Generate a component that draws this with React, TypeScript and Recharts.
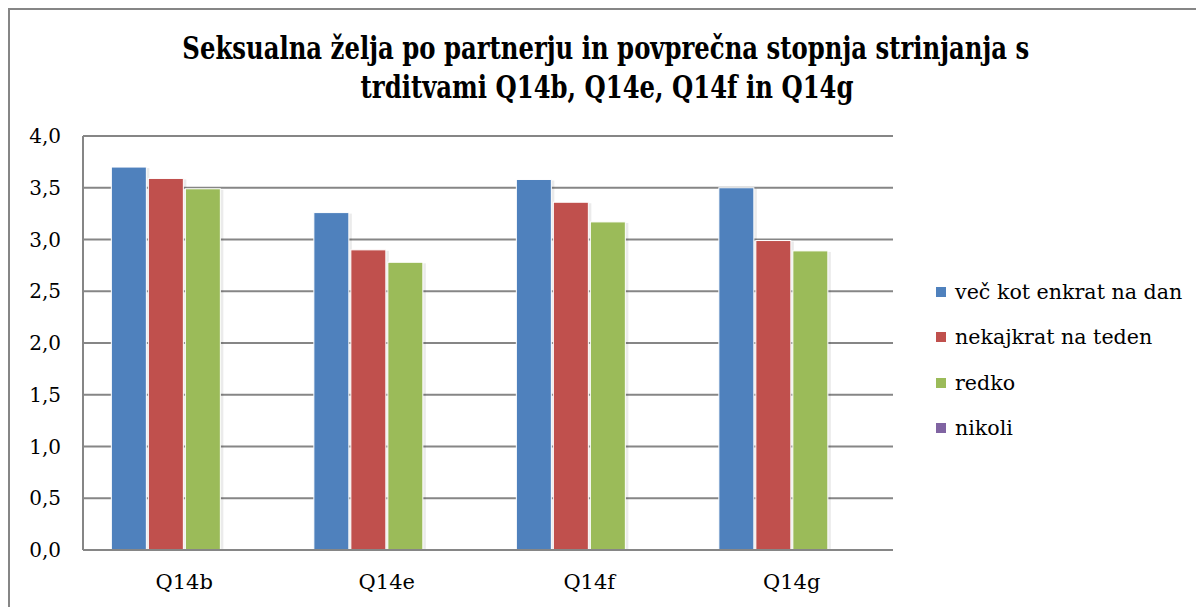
import React from 'react';
import { BarChart, Bar, XAxis, YAxis, CartesianGrid, Legend } from 'recharts';

const categories = ['Q14b', 'Q14e', 'Q14f', 'Q14g'];
const vecKotEnkratNaDan = [3.7, 3.26, 3.58, 3.5];
const nekajkratNaTeden = [3.59, 2.9, 3.36, 2.99];
const redko = [3.49, 2.78, 3.17, 2.89];
const nikoli: (number | null)[] = [null, null, null, null];
const seriesNames = ['več kot enkrat na dan', 'nekajkrat na teden', 'redko', 'nikoli'];
const seriesColors = ['#4F81BD', '#C0504D', '#9BBB59', '#8064A2'];
const yTicks = [0, 0.5, 1, 1.5, 2, 2.5, 3, 3.5, 4];
const titleLines = [
  'Seksualna želja po partnerju in povprečna stopnja strinjanja s',
  'trditvami Q14b, Q14e, Q14f in Q14g',
];

const data = categories.map((c, i) => ({
  name: c,
  s0: vecKotEnkratNaDan[i],
  s1: nekajkratNaTeden[i],
  s2: redko[i],
  s3: nikoli[i],
}));

const FONT = '"DejaVu Serif", serif';

const LegendContent = () => (
  <div style={{ fontFamily: FONT, fontSize: 20.6, color: '#000' }}>
    {seriesNames.map((n, i) => (
      <div key={n} style={{ display: 'flex', alignItems: 'center', height: 45.5 }}>
        <span style={{ width: 10, height: 10, background: seriesColors[i], display: 'inline-block', marginRight: 9 }} />
        <span>{n}</span>
      </div>
    ))}
  </div>
);

const ShadowBar = (props: any) => {
  const { x, y, width, height, fill } = props;
  if (!height || height <= 0) return null;
  return (
    <g>
      <rect x={x + 1} y={y + 1} width={width + 2} height={height} fill="#000" opacity={0.08} />
      <rect x={x} y={y} width={width} height={height} fill={fill} stroke="#fff" strokeWidth={1} />
    </g>
  );
};

export default function App() {
  return (
    <div style={{ position: 'relative', width: 1196, height: 599, overflow: 'hidden' }}>
      <div
        style={{
          position: 'absolute', left: 0, top: 0, width: 1196, height: 599,
          borderTop: '2px solid #868686', borderLeft: '2px solid #868686', boxSizing: 'border-box',
        }}
      />
      <div
        style={{
          position: 'absolute', left: 0, top: 21, width: 1196, textAlign: 'center',
          fontFamily: FONT, fontWeight: 'bold', fontSize: 31, lineHeight: '39px', color: '#000',
        }}
      >
        {titleLines.map((l, i) => (
          <div key={l} style={{ transform: 'scaleX(0.785)', transformOrigin: i === 0 ? '597px 0' : '603px 0' }}>
            {l}
          </div>
        ))}
      </div>
      <div style={{ position: 'absolute', left: 0, top: 0 }}>
        <BarChart
          width={1196}
          height={599}
          data={data}
          margin={{ top: 128, right: 311, bottom: 17, left: 0 }}
          barCategoryGap="14%"
          barGap={2}
        >
          <CartesianGrid vertical={false} stroke="#868686" strokeWidth={2} />
          <XAxis
            dataKey="name"
            height={40}
            tickLine={false}
            tickSize={0}
            tickMargin={24}
            axisLine={{ stroke: '#868686', strokeWidth: 2 }}
            tick={{ fill: '#000', fontFamily: FONT, fontSize: 21 }}
          />
          <YAxis
            width={75}
            domain={[0, 4]}
            ticks={yTicks}
            interval={0}
            tickLine={false}
            tickSize={0}
            tickMargin={22}
            axisLine={{ stroke: '#868686', strokeWidth: 2 }}
            tickFormatter={(v: number) => v.toFixed(1).replace('.', ',')}
            tick={{ fill: '#000', fontFamily: FONT, fontSize: 20 }}
          />
          <Legend
            layout="horizontal"
            verticalAlign="middle"
            align="center"
            content={<LegendContent />}
            wrapperStyle={{ left: 928, top: 261, width: 268 }}
          />
          {['s0', 's1', 's2', 's3'].map((k, i) => (
            <Bar
              key={k}
              dataKey={k}
              name={seriesNames[i]}
              fill={seriesColors[i]}
              isAnimationActive={false}
              shape={<ShadowBar />}
            />
          ))}
        </BarChart>
      </div>
    </div>
  );
}
